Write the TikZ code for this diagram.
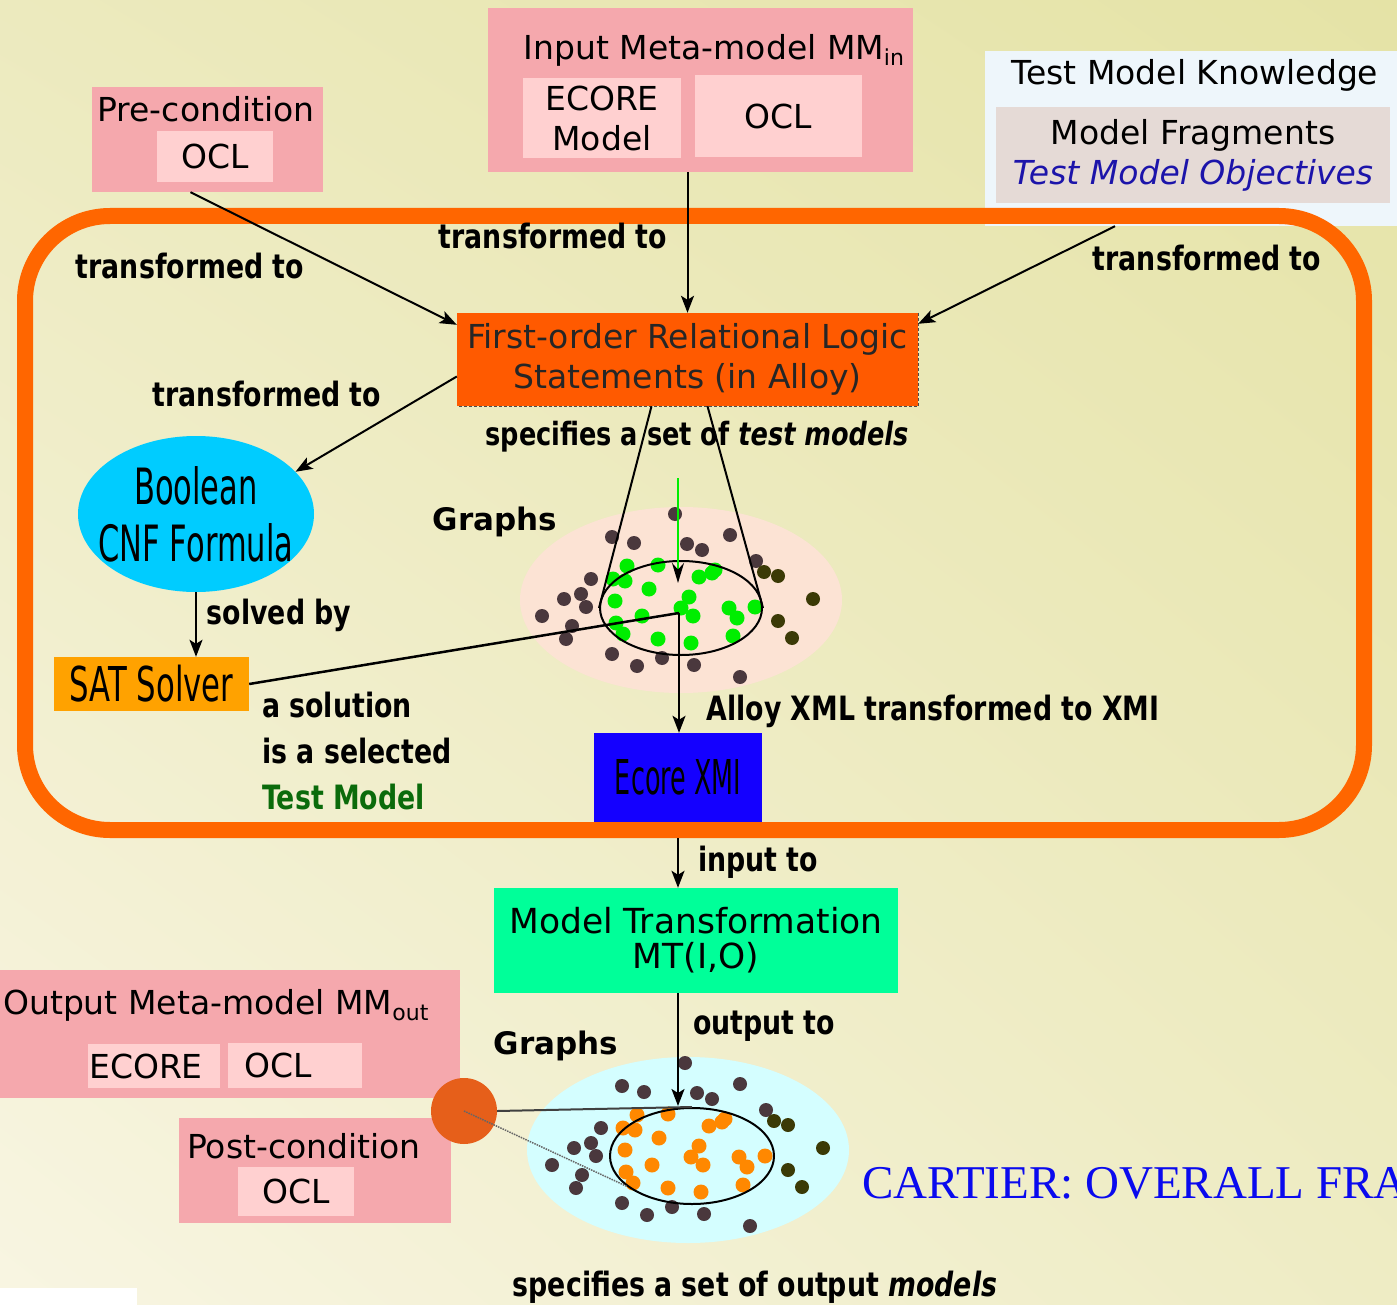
\documentclass[tikz,border=0pt]{standalone}
\usepackage{fontspec}
\setmainfont{DejaVu Sans}
\newfontfamily\lblfont[FakeStretch=0.8]{DejaVu Sans}
\newfontfamily\narrowfont[FakeStretch=0.61]{DejaVu Sans}
\newfontfamily\satfont[FakeStretch=0.64]{DejaVu Sans}
\newfontfamily\xmifont[FakeStretch=0.53]{DejaVu Sans}
\newfontfamily\headfont{Liberation Serif}
\usepackage{xcolor}
\usetikzlibrary{arrows.meta, positioning, shapes.geometric, calc, shadings}

\definecolor{bgul}{HTML}{ECEABE}
\definecolor{bgur}{HTML}{E5E3A6}
\definecolor{bgll}{HTML}{F8F5E2}
\definecolor{bglr}{HTML}{EEECC4}
\definecolor{pinkout}{HTML}{F5A8AD}
\definecolor{pinkin}{HTML}{FFD0D0}
\definecolor{tmkout}{HTML}{EEF6FB}
\definecolor{tmkin}{HTML}{E5DAD6}
\definecolor{folred}{HTML}{FF5A00}
\definecolor{cnfcyan}{HTML}{00CCFF}
\definecolor{satorange}{HTML}{FFA200}
\definecolor{xmiblue}{HTML}{1400FF}
\definecolor{mtgreen}{HTML}{00FF99}
\definecolor{halopink}{HTML}{FCE3D4}
\definecolor{halocyan}{HTML}{D4FEFF}
\definecolor{dotdark}{HTML}{4A383D}
\definecolor{dotolive}{HTML}{3B3A06}
\definecolor{dotgreen}{HTML}{00EE00}
\definecolor{dotorange}{HTML}{FF8800}
\definecolor{postorange}{HTML}{E65F1A}
\definecolor{frameorange}{HTML}{FF6600}
\definecolor{tmgreen}{HTML}{0B6B0B}
\definecolor{objblue}{HTML}{1C14AA}
\definecolor{titleblue}{HTML}{0A0AEE}

\begin{document}
\begin{tikzpicture}[x=1pt, y=-1pt,
    every node/.style={font=\fontsize{33}{40}\selectfont, inner sep=0pt},
    outbox/.style={rectangle, fill=pinkout},
    inbox/.style={rectangle, fill=pinkin, align=center},
    lbl/.style={font=\lblfont\bfseries\fontsize{33.5}{46}\selectfont, align=left},
    narrow/.style={font=\narrowfont\fontsize{50}{57}\selectfont, align=center},
    graphs/.style={font=\bfseries\fontsize{31}{36}\selectfont},
    arr/.style={-{Stealth[length=17pt, width=13pt, inset=4pt]}, line width=2pt},
    cone/.style={line width=2pt},
    sel/.style={ellipse, draw, line width=2pt},
  ]
    \useasboundingbox (0,0) rectangle (1397,1305);
    \shade[upper left=bgul, upper right=bgur, lower left=bgll, lower right=bglr]
      (0,0) rectangle (1397,1305);
    \fill[white] (0,1288) rectangle (137,1305);

    \node[outbox, minimum width=425pt, minimum height=164pt] (mmin) at (700.5,90) {};
    \node (mmintxt) at (714,50) {Input Meta-model MM\raisebox{-6pt}{\fontsize{22}{24}\selectfont in}};
    \node[inbox, minimum width=158pt, minimum height=80pt] (ecin) at (602,118) {ECORE\\Model};
    \node[inbox, minimum width=167pt, minimum height=82pt] (oclin) at (778.5,116) {OCL};

    \node[outbox, minimum width=231pt, minimum height=105pt] (pre) at (207.5,139.5) {};
    \node (pretxt) at (206,109) {Pre-condition};
    \node[inbox, minimum width=116pt, minimum height=51pt] (preocl) at (215,156.5) {OCL};

    \node[rectangle, fill=tmkout, minimum width=415pt, minimum height=175pt] (tmk) at (1192,138.5) {};
    \node (tmktxt) at (1195,75) {Test Model Knowledge};
    \node[rectangle, fill=tmkin, minimum width=394pt, minimum height=96pt, align=center] (frag) at (1193,155)
      {Model Fragments\\{\color{objblue}\itshape Test Model Objectives}};

    \node[rectangle, fill=folred, minimum width=461pt, minimum height=93pt, align=center,
          text=black!85] (fol) at (687.5,359.5) {First-order Relational Logic\\Statements (in Alloy)};
    \draw[densely dashed, black!70] (fol.north east) -- (fol.south east) -- (fol.south west);

    \node[ellipse, fill=cnfcyan, minimum width=236pt, minimum height=156pt] (bool) at (196,514) {};
    \node[narrow] (booltxt) at (bool) {Boolean\\CNF Formula};
    \node[rectangle, fill=satorange, minimum width=195pt, minimum height=54pt,
          font=\satfont\fontsize{48}{54}\selectfont] (sat) at (151.5,684) {SAT Solver};
    \node[rectangle, fill=xmiblue, minimum width=168pt, minimum height=89pt,
          font=\xmifont\fontsize{48}{54}\selectfont] (xmi) at (678,777.5) {Ecore XMI};

    \node[rectangle, draw=frameorange, line width=16pt, rounded corners=85pt,
          minimum width=1339pt, minimum height=614pt] (core) at (694.5,523) {};

    \node[rectangle, fill=mtgreen, minimum width=404pt, minimum height=105pt, align=center,
          font=\fontsize{34.5}{35}\selectfont] (mt) at (696,940.5) {Model Transformation\\MT(I,O)};

    \node[outbox, minimum width=460pt, minimum height=128pt] (mmout) at (230,1034) {};
    \node[anchor=west] (mmouttxt) at (3,1005) {Output Meta-model MM\raisebox{-6pt}{\fontsize{22}{24}\selectfont out}};
    \node[inbox, minimum width=132pt, minimum height=44pt] (ecout) at (154,1066) {ECORE\hspace{16pt}};
    \node[inbox, minimum width=134pt, minimum height=45pt] (oclout) at (295,1065.5) {OCL\hspace{34pt}};

    \node[outbox, minimum width=272pt, minimum height=105pt] (post) at (315,1170.5) {};
    \node (posttxt) at (304,1146) {Post-condition};
    \node[inbox, minimum width=116pt, minimum height=49pt] (postocl) at (296,1191.5) {OCL};

    \node[ellipse, fill=halopink, minimum width=322pt, minimum height=186pt] (halo) at (681,600) {};
    \node[ellipse, fill=halocyan, minimum width=322pt, minimum height=186pt] (ohalo) at (688,1150) {};

    \def\darkpts{675/514, 612/537, 634/543, 687/544, 702/550, 730/535, 756/561, 591/579, 581/594,
      564/599, 586/607, 542/616, 572/626, 566/639, 612/654, 662/658, 637/666, 694/665, 740/677}
    \def\olivepts{764/572, 778/576, 813/599, 778/621, 792/638}
    \def\innerpts{627/566, 658/565, 613/579, 625/581, 699/577, 712/573, 715/570, 649/589, 689/597,
      615/601, 681/608, 693/616, 729/608, 737/618, 755/607, 642/616, 616/623, 623/634, 658/639,
      691/643, 733/636}
    \foreach \a/\b in \darkpts \fill[dotdark] (\a,\b) circle (7);
    \foreach \a/\b in \olivepts \fill[dotolive] (\a,\b) circle (7);
    \foreach \a/\b in \innerpts \fill[dotgreen] (\a,\b) circle (7.5);
    \begin{scope}[shift={(10,549)}]
      \foreach \a/\b in \darkpts \fill[dotdark] (\a,\b) circle (7);
      \foreach \a/\b in \olivepts \fill[dotolive] (\a,\b) circle (7);
      \foreach \a/\b in \innerpts \fill[dotorange] (\a,\b) circle (7.5);
    \end{scope}

    \node[sel, minimum width=162pt, minimum height=94pt] (tsel) at (681,608) {};
    \node[sel, minimum width=164pt, minimum height=96pt] (osel) at (692,1156) {};
    \node[graphs] (tgraphs) at (495,522) {Graphs};
    \node[graphs] (ographs) at (556,1046) {Graphs};

    \node[circle, fill=postorange, minimum size=66pt] (dotc) at (464,1111) {};

    \coordinate (hub) at (679,613);
    \coordinate (gtop) at (678,478);
    \coordinate (gtip) at (678,583);
    \coordinate (otip) at (678,1106);

    \draw[arr] ($(pre.south)+(-17,0)$) -- ($(fol.north west)+(0,12)$);
    \draw[arr] (fol.north |- mmin.south) -- (fol.north);
    \draw[arr] ($(tmk.south)+(-77,0)$) -- ($(fol.north east)+(0,11)$);
    \draw[arr] ($(fol.west)+(0,17)$) -- (bool.23);
    \draw[arr] (bool.south) -- (bool.south |- sat.north);
    \draw[cone] ($(fol.south)+(-36,0)$) -- (tsel.west);
    \draw[cone] ($(fol.south)+(20,0)$) -- (tsel.east);
    \draw[-{Stealth[length=20pt, width=12pt, color=black]}, line width=2pt, dotgreen] (gtop) -- (gtip);
    \draw[line width=2.5pt] (sat.east) -- (hub);
    \draw[arr] (hub) -- (hub |- xmi.north);
    \draw[arr] (xmi.south |- core.south) -- (xmi.south |- mt.north);
    \draw[arr] (otip |- mt.south) -- (otip);
    \draw[line width=2pt, black!75] (dotc.east) -- (osel.north);
    \draw[densely dotted, line width=1.5pt, black!60] (dotc.center) -- (osel.205);

    \node[lbl] (lpre) at (190,266) {transformed to};
    \node[lbl] (lmm) at (553,236) {transformed to};
    \node[lbl] (ltmk) at (1207,258) {transformed to};
    \node[lbl] (lcnf) at (267,394) {transformed to};
    \node[lbl] (lsolve) at (279,615) {solved by};
    \node[lbl, font=\lblfont\bfseries\fontsize{32}{40}\selectfont] (lspec) at (697,437)
      {specifies a set of \textit{test models}};
    \node[lbl, anchor=west] (lsol) at (262,751) {a solution\\is a selected\\{\color{tmgreen}Test Model}};
    \node[lbl] (lxml) at (933,711) {Alloy XML transformed to XMI};
    \node[lbl] (linput) at (758,862) {input to};
    \node[lbl] (loutput) at (764,1026) {output to};
    \node[lbl] (lospec) at (755,1287) {specifies a set of output \textit{models}};

    \node[anchor=base west, font=\headfont\fontsize{47}{50}\selectfont, text=titleblue] (head)
      at (862,1198) {CARTIER: OVERALL FRA};
\end{tikzpicture}
\end{document}
